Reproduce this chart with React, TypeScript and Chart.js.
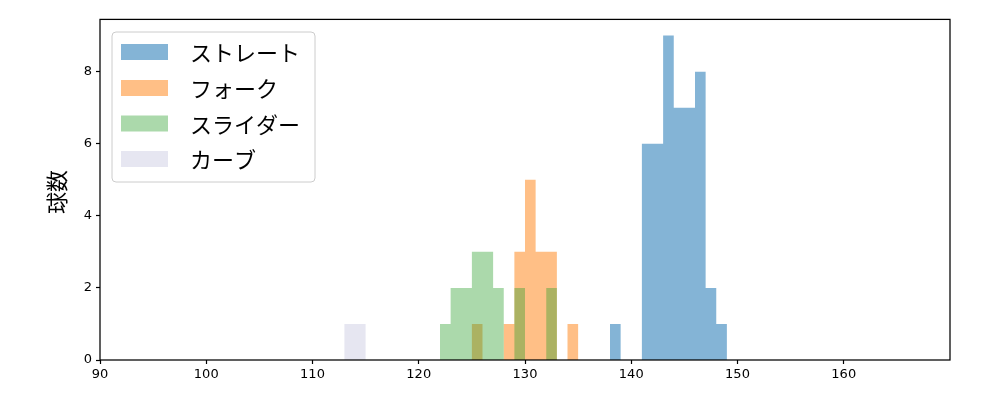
import React, { useEffect, useRef } from "react";
import { Chart, registerables } from "chart.js";

Chart.register(...registerables);

const seriesLabels = ["ストレート", "フォーク", "スライダー", "カーブ"];
const seriesColors = [
  "rgba(31,119,180,0.55)",
  "rgba(255,127,14,0.5)",
  "rgba(44,160,44,0.4)",
  "rgba(200,200,225,0.45)",
];

// bin start (km/h) and count, bin width 1
const straightBins = [138, 141, 142, 143, 144, 145, 146, 147, 148];
const straightCounts = [1, 6, 6, 9, 7, 7, 8, 2, 1];
const forkBins = [125, 128, 129, 130, 131, 132, 134];
const forkCounts = [1, 1, 3, 5, 3, 3, 1];
const sliderBins = [122, 123, 124, 125, 126, 127, 129, 132];
const sliderCounts = [1, 2, 2, 3, 3, 2, 2, 2];
const curveBins = [113, 114];
const curveCounts = [1, 1];

const xTicks = [90, 100, 110, 120, 130, 140, 150, 160];
const yTicks = [0, 2, 4, 6, 8];
const xMin = 90;
const xMax = 170;
const yMax = 9.45;
const yTitle = "球数";

const binWidth = 1;

// histogram outline points: left edge of each bin holds its count; drop to 0 after a run ends
function toSteps(bins: number[], counts: number[]) {
  const pts: { x: number; y: number }[] = [];
  bins.forEach((b, i) => {
    pts.push({ x: b, y: counts[i] });
    const next = bins[i + 1];
    if (next === undefined || next !== b + binWidth) {
      pts.push({ x: b + binWidth, y: 0 });
    }
  });
  return pts;
}

export default function App() {
  const ref = useRef<HTMLCanvasElement | null>(null);

  useEffect(() => {
    if (!ref.current) return;
    const allBins = [
      [straightBins, straightCounts],
      [forkBins, forkCounts],
      [sliderBins, sliderCounts],
      [curveBins, curveCounts],
    ];
    const datasets = allBins.map(([b, c], i) => ({
      label: seriesLabels[i],
      data: toSteps(b as number[], c as number[]),
      backgroundColor: seriesColors[i],
      borderWidth: 0,
      borderColor: "rgba(0,0,0,0)",
      pointRadius: 0,
      showLine: false,
      fill: false,
    }));

    // fill each histogram as a single stepped polygon from the scale-computed points
    const histFill = {
      id: "histFill",
      beforeDatasetsDraw(chart: any) {
        const { ctx, chartArea } = chart;
        const y0 = chart.scales.y.getPixelForValue(0);
        ctx.save();
        ctx.beginPath();
        ctx.rect(chartArea.left, chartArea.top, chartArea.right - chartArea.left, chartArea.bottom - chartArea.top);
        ctx.clip();
        chart.data.datasets.forEach((ds: any, i: number) => {
          const meta = chart.getDatasetMeta(i);
          const pts = meta.data;
          if (!pts.length) return;
          ctx.beginPath();
          ctx.moveTo(pts[0].x, y0);
          let prevY = y0;
          for (let k = 0; k < pts.length; k++) {
            const p = pts[k];
            ctx.lineTo(p.x, prevY);
            ctx.lineTo(p.x, p.y);
            prevY = p.y;
          }
          ctx.lineTo(pts[pts.length - 1].x, y0);
          ctx.closePath();
          ctx.fillStyle = ds.backgroundColor;
          ctx.fill();
        });
        ctx.restore();
      },
    };

    const framePlugin = {
      id: "frame",
      afterDraw(chart: any) {
        const { ctx, chartArea } = chart;
        ctx.save();
        ctx.strokeStyle = "#000";
        ctx.lineWidth = 1.25;
        ctx.strokeRect(
          chartArea.left,
          chartArea.top,
          chartArea.right - chartArea.left,
          chartArea.bottom - chartArea.top
        );
        // y title
        ctx.translate(57, 192);
        ctx.rotate(-Math.PI / 2);
        ctx.fillStyle = "#000";
        ctx.font = '22px "Noto Sans CJK JP"';
        ctx.textAlign = "center";
        ctx.textBaseline = "middle";
        ctx.fillText(yTitle, 0, 0);
        ctx.restore();

        // legend
        ctx.save();
        const lx = 112, ly = 32, lw = 203, lh = 150, r = 4;
        ctx.beginPath();
        ctx.moveTo(lx + r, ly);
        ctx.lineTo(lx + lw - r, ly);
        ctx.arcTo(lx + lw, ly, lx + lw, ly + r, r);
        ctx.lineTo(lx + lw, ly + lh - r);
        ctx.arcTo(lx + lw, ly + lh, lx + lw - r, ly + lh, r);
        ctx.lineTo(lx + r, ly + lh);
        ctx.arcTo(lx, ly + lh, lx, ly + lh - r, r);
        ctx.lineTo(lx, ly + r);
        ctx.arcTo(lx, ly, lx + r, ly, r);
        ctx.closePath();
        ctx.fillStyle = "rgba(255,255,255,0.8)";
        ctx.fill();
        ctx.strokeStyle = "#cccccc";
        ctx.lineWidth = 1;
        ctx.stroke();
        const rows = [52, 88, 123.5, 159];
        chart.data.datasets.forEach((ds: any, i: number) => {
          ctx.fillStyle = ds.backgroundColor;
          ctx.fillRect(121, rows[i] - 8, 47, 16);
          ctx.fillStyle = "#000";
          ctx.font = '22px "Noto Sans CJK JP"';
          ctx.textAlign = "left";
          ctx.textBaseline = "middle";
          ctx.fillText(ds.label, 190, rows[i] + 1);
        });
        ctx.restore();
      },
    };

    const chart = new Chart(ref.current, {
      type: "line",
      data: { datasets: datasets as any },
      options: {
        animation: false,
        responsive: false,
        devicePixelRatio: 1,
        layout: { padding: { top: 19.4, right: 50, left: 0, bottom: 0 } },
        plugins: { legend: { display: false }, tooltip: { enabled: false } },
        scales: {
          x: {
            type: "linear",
            min: xMin,
            max: xMax,
            offset: false,
            grid: {
              offset: false,
              drawOnChartArea: false,
              drawTicks: true,
              tickLength: 4,
              color: "#000",
              tickWidth: 1.2,
            },
            border: { display: false },
            ticks: {
              stepSize: 10,
              autoSkip: false,
              maxRotation: 0,
              color: "#000",
              padding: 3,
              font: { family: "DejaVu Sans", size: 13 },
            },
            afterBuildTicks(scale: any) {
              scale.ticks = xTicks.map((v) => ({ value: v }));
            },
            afterFit(scale: any) {
              scale.height = 40;
            },
          },
          y: {
            type: "linear",
            min: 0,
            max: yMax,
            grid: {
              drawOnChartArea: false,
              drawTicks: true,
              tickLength: 4,
              color: "#000",
              tickWidth: 1.2,
            },
            border: { display: false },
            ticks: {
              stepSize: 2,
              includeBounds: false,
              color: "#000",
              padding: 4,
              font: { family: "DejaVu Sans", size: 13 },
            },
            afterBuildTicks(scale: any) {
              scale.ticks = yTicks.map((v) => ({ value: v }));
            },
            afterFit(scale: any) {
              scale.width = 100;
            },
          },
        },
      },
      plugins: [histFill, framePlugin],
    });
    return () => chart.destroy();
  }, []);

  return (
    <div style={{ position: "fixed", left: 0, top: 0, width: 1000, height: 400 }}>
      <canvas ref={ref} width={1000} height={400} />
    </div>
  );
}
